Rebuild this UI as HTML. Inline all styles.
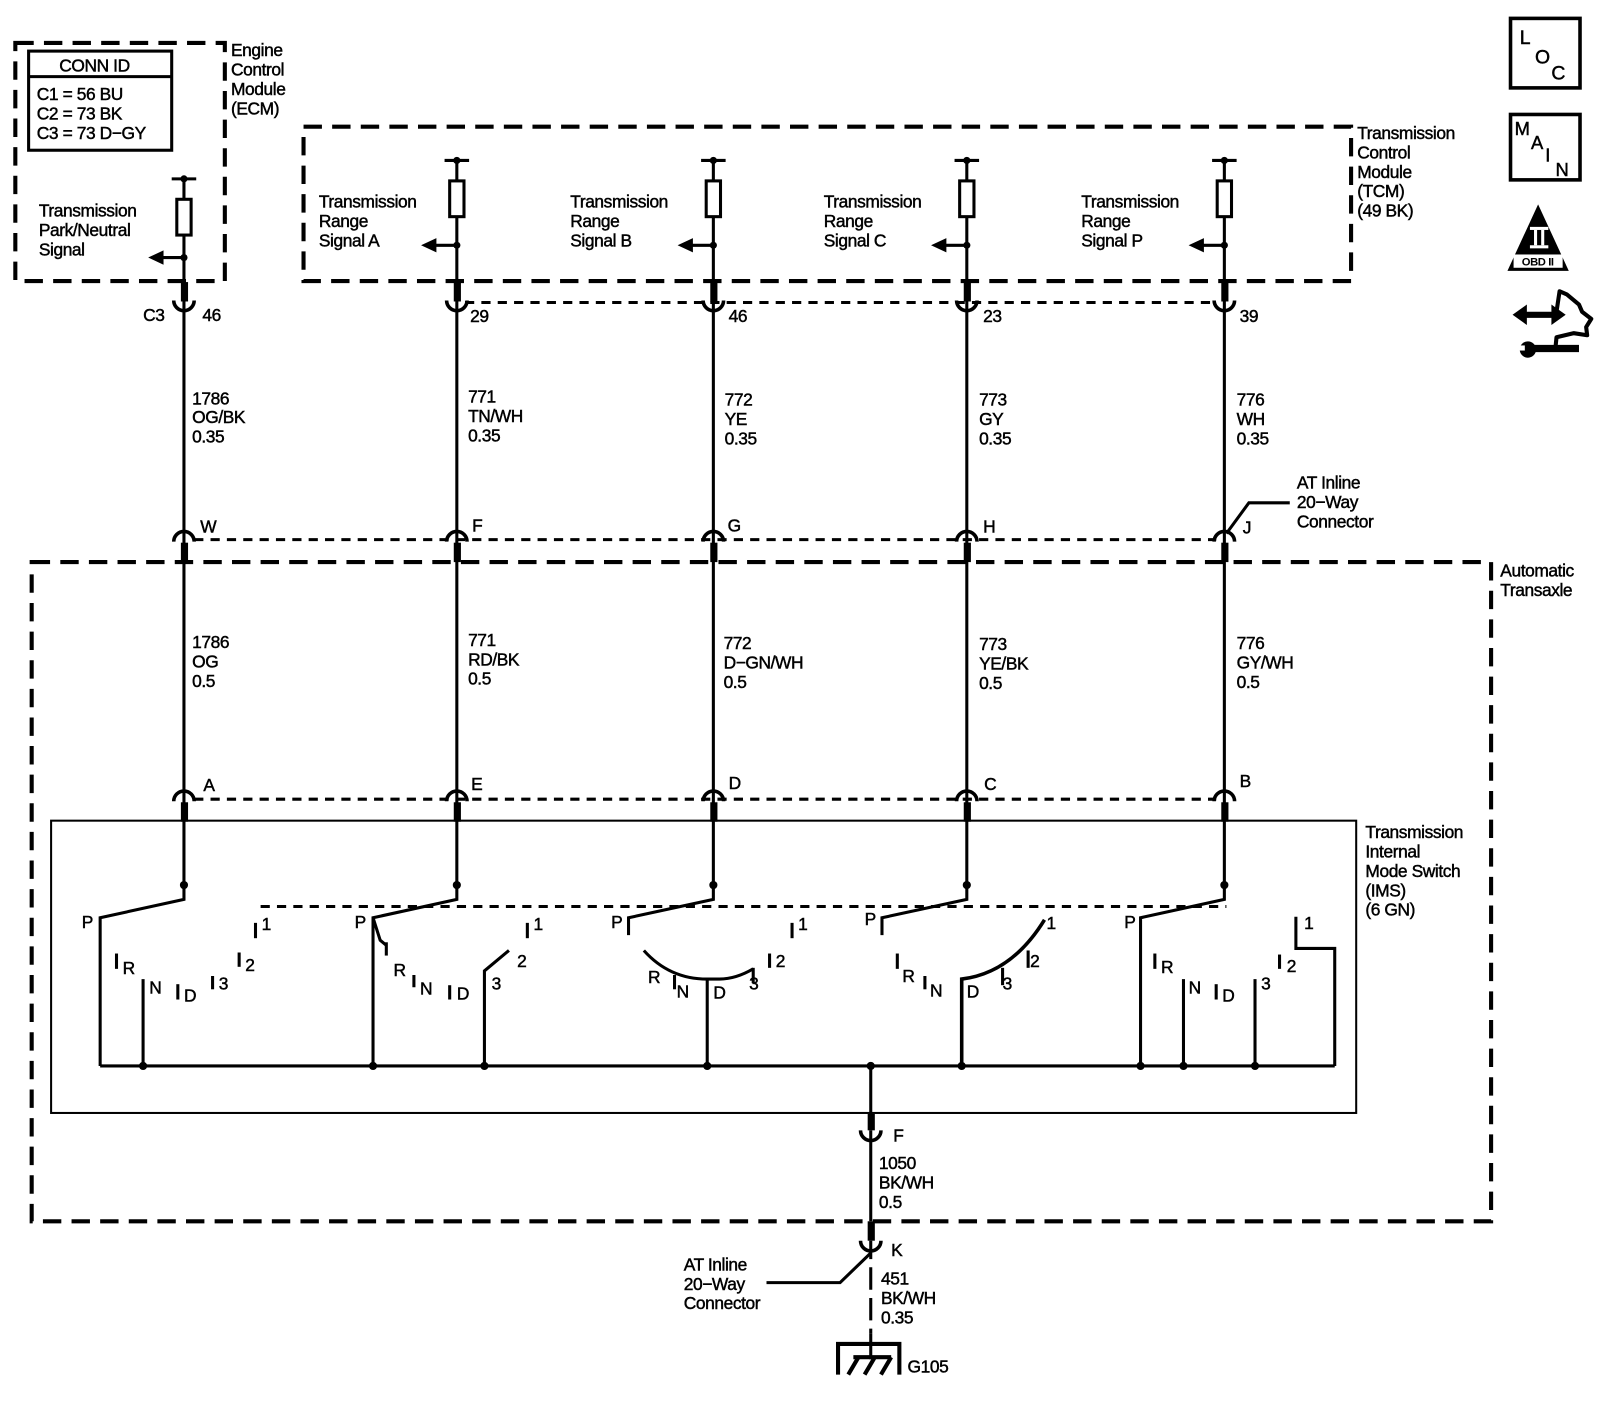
<!DOCTYPE html>
<html><head><meta charset="utf-8"><style>
html,body{margin:0;padding:0;background:#fff}
svg{display:block}
text{font-family:"Liberation Sans",Arial,sans-serif;font-size:17px;fill:#000;stroke:#000;stroke-width:0.45px;letter-spacing:-0.4px}
</style></head><body>
<svg width="1600" height="1418" viewBox="0 0 1600 1418" xmlns="http://www.w3.org/2000/svg">
<rect width="1600" height="1418" fill="#fff"/>
<g transform="scale(1.022)" stroke="#000" fill="none" stroke-linecap="butt">
<!-- ECM box -->
<rect x="15" y="42" width="205" height="233" stroke-width="4" stroke-dasharray="18,10"/>
<rect x="28" y="50" width="140" height="97" stroke-width="3"/>
<line x1="28" y1="75" x2="168" y2="75" stroke-width="3"/>
<!-- TCM box -->
<rect x="297" y="124" width="1025" height="151" stroke-width="4" stroke-dasharray="18,10"/>
<!-- Transaxle box -->
<rect x="31" y="550" width="1428" height="645" stroke-width="4" stroke-dasharray="18,10"/>
<!-- IMS box -->
<rect x="50" y="803" width="1277" height="286" stroke-width="2"/>

<line x1="455" y1="296" x2="1190" y2="296" stroke-width="3" stroke-dasharray="9,7"/>
<line x1="190" y1="528" x2="1190" y2="528" stroke-width="3" stroke-dasharray="9,7"/>
<line x1="190" y1="782" x2="1190" y2="782" stroke-width="3" stroke-dasharray="9,7"/>
<line x1="255" y1="887" x2="1200" y2="887" stroke-width="3" stroke-dasharray="9,7"/>

<g stroke-width="3">
<line x1="180" y1="175" x2="180" y2="866"/>
<line x1="447" y1="157" x2="447" y2="866"/>
<line x1="698" y1="157" x2="698" y2="866"/>
<line x1="946" y1="157" x2="946" y2="866"/>
<line x1="1198" y1="157" x2="1198" y2="866"/>
<line x1="168" y1="175" x2="192" y2="175"/>
<line x1="435" y1="157" x2="459" y2="157"/>
<line x1="686" y1="157" x2="710" y2="157"/>
<line x1="934" y1="157" x2="958" y2="157"/>
<line x1="1186" y1="157" x2="1210" y2="157"/>
<line x1="158" y1="252" x2="180" y2="252"/>
<line x1="425" y1="240" x2="447" y2="240"/>
<line x1="676" y1="240" x2="698" y2="240"/>
<line x1="924" y1="240" x2="946" y2="240"/>
<line x1="1176" y1="240" x2="1198" y2="240"/>
</g>
<g fill="#fff" stroke-width="3">
<rect x="173" y="195" width="14" height="35"/>
<rect x="440" y="177" width="14" height="35"/>
<rect x="691" y="177" width="14" height="35"/>
<rect x="939" y="177" width="14" height="35"/>
<rect x="1191" y="177" width="14" height="35"/>
</g>
<g fill="#000" stroke="none">
<polygon points="145,252 160,245 160,259"/>
<polygon points="412,240 427,233 427,247"/>
<polygon points="663,240 678,233 678,247"/>
<polygon points="911,240 926,233 926,247"/>
<polygon points="1163,240 1178,233 1178,247"/>
<circle cx="180" cy="175" r="3.5"/><circle cx="447" cy="157" r="3.5"/><circle cx="698" cy="157" r="3.5"/><circle cx="946" cy="157" r="3.5"/><circle cx="1198" cy="157" r="3.5"/>
<circle cx="180" cy="252" r="3.5"/><circle cx="447" cy="240" r="3.5"/><circle cx="698" cy="240" r="3.5"/><circle cx="946" cy="240" r="3.5"/><circle cx="1198" cy="240" r="3.5"/>
<circle cx="180" cy="866" r="4"/><circle cx="447" cy="866" r="4"/><circle cx="698" cy="866" r="4"/><circle cx="946" cy="866" r="4"/><circle cx="1198" cy="866" r="4"/>
<rect x="177" y="276" width="7" height="19"/><rect x="444" y="276" width="7" height="19"/><rect x="695" y="276" width="7" height="19"/><rect x="943" y="276" width="7" height="19"/><rect x="1195" y="276" width="7" height="19"/>
<rect x="177" y="531" width="7" height="19"/><rect x="444" y="531" width="7" height="19"/><rect x="695" y="531" width="7" height="19"/><rect x="943" y="531" width="7" height="19"/><rect x="1195" y="531" width="7" height="19"/>
<rect x="177" y="785" width="7" height="19"/><rect x="444" y="785" width="7" height="19"/><rect x="695" y="785" width="7" height="19"/><rect x="943" y="785" width="7" height="19"/><rect x="1195" y="785" width="7" height="19"/>
<rect x="849" y="1090" width="7" height="16"/><rect x="849" y="1195" width="7" height="19"/>
</g>
<g stroke-width="3.5">
<path d="M170,294 A10,10 0 0 0 190,294"/><path d="M437,294 A10,10 0 0 0 457,294"/><path d="M688,294 A10,10 0 0 0 708,294"/><path d="M936,294 A10,10 0 0 0 956,294"/><path d="M1188,294 A10,10 0 0 0 1208,294"/>
<path d="M170,530 A10,10 0 0 1 190,530"/><path d="M437,530 A10,10 0 0 1 457,530"/><path d="M688,530 A10,10 0 0 1 708,530"/><path d="M936,530 A10,10 0 0 1 956,530"/><path d="M1188,530 A10,10 0 0 1 1208,530"/>
<path d="M170,784 A10,10 0 0 1 190,784"/><path d="M437,784 A10,10 0 0 1 457,784"/><path d="M688,784 A10,10 0 0 1 708,784"/><path d="M936,784 A10,10 0 0 1 956,784"/><path d="M1188,784 A10,10 0 0 1 1208,784"/>
<path d="M842,1106 A10,10 0 0 0 862,1106"/><path d="M842,1214 A10,10 0 0 0 862,1214"/>
</g>
<polyline points="1200,522 1222,492 1262,492" stroke-width="3"/>
<g stroke-width="3">
<line x1="98" y1="1043" x2="1306" y2="1043"/>
<polyline points="180,866 180,880 98,898 98,1043"/>
<line x1="114" y1="933" x2="114" y2="948"/>
<line x1="140" y1="958" x2="140" y2="1043"/>
<line x1="174" y1="963" x2="174" y2="978"/>
<line x1="208" y1="955" x2="208" y2="968"/>
<line x1="234" y1="932" x2="234" y2="946"/>
<line x1="250" y1="903" x2="250" y2="918"/>
<polyline points="447,866 447,880 365,898 365,1043"/>
<polyline points="365,898 372,920 378,925"/>
<line x1="378" y1="922" x2="378" y2="935"/>
<line x1="405" y1="954" x2="405" y2="966"/>
<line x1="440" y1="964" x2="440" y2="978"/>
<polyline points="474,1043 474,950 498,930"/>
<line x1="516" y1="903" x2="516" y2="918"/>
<polyline points="698,866 698,880 615,898 615,915"/>
<path d="M630,930 Q655,958 692,958 L704,958 Q720,958 737,948"/>
<line x1="692" y1="958" x2="692" y2="1043"/>
<line x1="660" y1="954" x2="660" y2="968"/>
<line x1="737" y1="947" x2="737" y2="962"/>
<line x1="753" y1="933" x2="753" y2="947"/>
<line x1="775" y1="903" x2="775" y2="918"/>
<polyline points="946,866 946,880 863,898 863,915"/>
<path d="M941,1043 L941,958 Q990,952 1022,900" stroke-width="3.5"/>
<line x1="878" y1="933" x2="878" y2="948"/>
<line x1="905" y1="955" x2="905" y2="968"/>
<line x1="981" y1="947" x2="981" y2="964"/>
<line x1="1006" y1="930" x2="1006" y2="947"/>
<polyline points="1198,866 1198,880 1116,898 1116,1043"/>
<line x1="1130" y1="933" x2="1130" y2="948"/>
<line x1="1158" y1="958" x2="1158" y2="1043"/>
<line x1="1190" y1="963" x2="1190" y2="978"/>
<line x1="1228" y1="958" x2="1228" y2="1043"/>
<line x1="1252" y1="934" x2="1252" y2="948"/>
<polyline points="1268,897 1268,928 1306,928 1306,1043"/>
<line x1="852" y1="1043" x2="852" y2="1090"/>
<line x1="852" y1="1106" x2="852" y2="1195"/>
<line x1="852" y1="1214" x2="852" y2="1232"/>
<line x1="852" y1="1240" x2="852" y2="1305" stroke-dasharray="22,8"/>
<line x1="852" y1="1305" x2="852" y2="1330"/>
<polyline points="852,1226 822,1255 750,1255"/>
</g>
<g fill="#000" stroke="none">
<circle cx="140" cy="1043" r="4"/><circle cx="365" cy="1043" r="4"/><circle cx="474" cy="1043" r="4"/><circle cx="692" cy="1043" r="4"/><circle cx="852" cy="1043" r="4"/><circle cx="941" cy="1043" r="4"/><circle cx="1116" cy="1043" r="4"/><circle cx="1158" cy="1043" r="4"/><circle cx="1228" cy="1043" r="4"/>
</g>
<polyline points="820,1345 820,1315 880,1315 880,1345" stroke-width="4"/>
<g stroke-width="4"><line x1="830" y1="1345" x2="840" y2="1328"/><line x1="846" y1="1345" x2="856" y2="1328"/><line x1="862" y1="1345" x2="872" y2="1328"/><line x1="835" y1="1328" x2="872" y2="1328"/></g>

<rect x="1478" y="18" width="68" height="68" stroke-width="3.5"/>
<rect x="1478" y="112" width="68" height="64" stroke-width="3.5"/>
<polygon points="1505,200 1475,265 1535,265" fill="#000" stroke="none"/>
<rect x="1481" y="249" width="48" height="13" fill="#fff" stroke="none"/>
<rect x="1497" y="222" width="18" height="3" fill="#fff" stroke="none"/>
<rect x="1497" y="240" width="18" height="3" fill="#fff" stroke="none"/>
<rect x="1501" y="225" width="3" height="15" fill="#fff" stroke="none"/>
<rect x="1508" y="225" width="3" height="15" fill="#fff" stroke="none"/>
<polyline points="1523,305 1526,285 1533,288 1545,298 1548,305 1557,312 1552,320 1553,328 1540,326 1523,330 1522,340" stroke-width="4" stroke-linejoin="round"/>
<line x1="1492" y1="308" x2="1520" y2="308" stroke-width="6"/>
<polygon points="1480,308 1494,298 1494,318" fill="#000" stroke="none"/>
<polygon points="1532,308 1518,298 1518,318" fill="#000" stroke="none"/>
<line x1="1500" y1="341" x2="1545" y2="341" stroke-width="7"/>
<circle cx="1495" cy="342" r="8" fill="#000" stroke="none"/>
<rect x="1484" y="338" width="8" height="5" fill="#fff" stroke="none"/>
</g>

<g transform="scale(1.022)">
<text x="58" y="70">CONN ID</text>
<text x="36" y="98">C1 = 56 BU</text>
<text x="36" y="117">C2 = 73 BK</text>
<text x="36" y="136">C3 = 73 D−GY</text>
<text x="226" y="55">Engine</text><text x="226" y="74">Control</text><text x="226" y="93">Module</text><text x="226" y="112">(ECM)</text>
<text x="38" y="212">Transmission</text><text x="38" y="231">Park/Neutral</text><text x="38" y="250">Signal</text>
<text x="312" y="203">Transmission</text><text x="312" y="222">Range</text><text x="312" y="241">Signal A</text>
<text x="558" y="203">Transmission</text><text x="558" y="222">Range</text><text x="558" y="241">Signal B</text>
<text x="806" y="203">Transmission</text><text x="806" y="222">Range</text><text x="806" y="241">Signal C</text>
<text x="1058" y="203">Transmission</text><text x="1058" y="222">Range</text><text x="1058" y="241">Signal P</text>
<text x="1328" y="136">Transmission</text><text x="1328" y="155">Control</text><text x="1328" y="174">Module</text><text x="1328" y="193">(TCM)</text><text x="1328" y="212">(49 BK)</text>
<text x="140" y="314">C3</text><text x="198" y="314">46</text>
<text x="460" y="315">29</text><text x="713" y="315">46</text><text x="962" y="315">23</text><text x="1213" y="315">39</text>
<text x="188" y="396">1786</text><text x="188" y="414">OG/BK</text><text x="188" y="433">0.35</text>
<text x="458" y="394">771</text><text x="458" y="413">TN/WH</text><text x="458" y="432">0.35</text>
<text x="709" y="397">772</text><text x="709" y="416">YE</text><text x="709" y="435">0.35</text>
<text x="958" y="397">773</text><text x="958" y="416">GY</text><text x="958" y="435">0.35</text>
<text x="1210" y="397">776</text><text x="1210" y="416">WH</text><text x="1210" y="435">0.35</text>
<text x="1269" y="478">AT Inline</text><text x="1269" y="497">20−Way</text><text x="1269" y="516">Connector</text>
<text x="196" y="521">W</text><text x="462" y="520">F</text><text x="712" y="520">G</text><text x="962" y="521">H</text><text x="1216" y="522">J</text>
<text x="1468" y="564">Automatic</text><text x="1468" y="583">Transaxle</text>
<text x="188" y="634">1786</text><text x="188" y="653">OG</text><text x="188" y="672">0.5</text>
<text x="458" y="632">771</text><text x="458" y="651">RD/BK</text><text x="458" y="670">0.5</text>
<text x="708" y="635">772</text><text x="708" y="654">D−GN/WH</text><text x="708" y="673">0.5</text>
<text x="958" y="636">773</text><text x="958" y="655">YE/BK</text><text x="958" y="674">0.5</text>
<text x="1210" y="635">776</text><text x="1210" y="654">GY/WH</text><text x="1210" y="673">0.5</text>
<text x="199" y="774">A</text><text x="461" y="773">E</text><text x="713" y="772">D</text><text x="963" y="773">C</text><text x="1213" y="770">B</text>
<text x="1336" y="820">Transmission</text><text x="1336" y="839">Internal</text><text x="1336" y="858">Mode Switch</text><text x="1336" y="877">(IMS)</text><text x="1336" y="896">(6 GN)</text>
<text x="80" y="908">P</text><text x="120" y="953">R</text><text x="146" y="972">N</text><text x="180" y="980">D</text><text x="214" y="968">3</text><text x="240" y="950">2</text><text x="256" y="910">1</text>
<text x="347" y="908">P</text><text x="385" y="955">R</text><text x="411" y="973">N</text><text x="447" y="978">D</text><text x="481" y="968">3</text><text x="506" y="946">2</text><text x="522" y="910">1</text>
<text x="598" y="908">P</text><text x="634" y="962">R</text><text x="662" y="976">N</text><text x="698" y="977">D</text><text x="733" y="968">3</text><text x="759" y="946">2</text><text x="781" y="910">1</text>
<text x="846" y="905">P</text><text x="883" y="961">R</text><text x="910" y="975">N</text><text x="946" y="976">D</text><text x="981" y="968">3</text><text x="1008" y="946">2</text><text x="1024" y="909">1</text>
<text x="1100" y="908">P</text><text x="1136" y="952">R</text><text x="1163" y="972">N</text><text x="1196" y="980">D</text><text x="1234" y="968">3</text><text x="1259" y="951">2</text><text x="1276" y="909">1</text>
<text x="874" y="1117">F</text>
<text x="860" y="1144">1050</text><text x="860" y="1163">BK/WH</text><text x="860" y="1182">0.5</text>
<text x="872" y="1229">K</text>
<text x="669" y="1243">AT Inline</text><text x="669" y="1262">20−Way</text><text x="669" y="1281">Connector</text>
<text x="862" y="1257">451</text><text x="862" y="1276">BK/WH</text><text x="862" y="1295">0.35</text>
<text x="888" y="1343">G105</text>
<text x="1487" y="43" style="font-size:19px">L</text><text x="1502" y="62" style="font-size:19px">O</text><text x="1518" y="78" style="font-size:19px">C</text>
<text x="1482" y="132" style="font-size:18px">M</text><text x="1498" y="146" style="font-size:18px">A</text><text x="1512" y="158" style="font-size:18px">I</text><text x="1522" y="172" style="font-size:18px">N</text>
<text x="1489" y="260" style="font-size:11px;font-weight:bold;stroke-width:0">OBD II</text>
</g>
</svg>
</body></html>
